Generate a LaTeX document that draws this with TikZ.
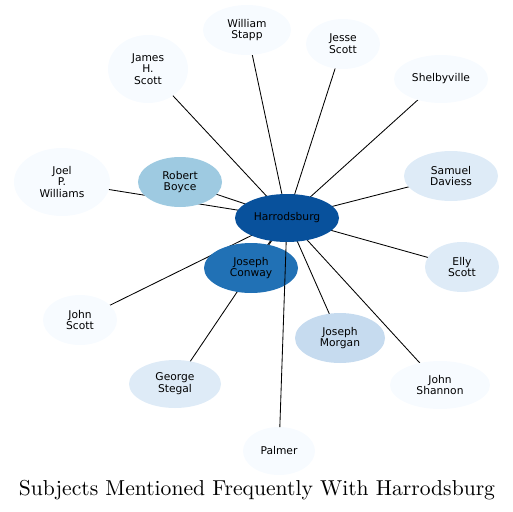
\documentclass[tikz,border=0pt]{standalone}
\usepackage{fontspec}
\newfontfamily\dejavu{DejaVu Sans}
\newfontfamily\lmten[Extension=.otf]{lmroman10-regular}
\usetikzlibrary{shapes.geometric,backgrounds}
\definecolor{cA}{HTML}{08519C}
\definecolor{cB}{HTML}{2171B5}
\definecolor{cC}{HTML}{9ECAE1}
\definecolor{cD}{HTML}{C6DBEF}
\definecolor{cE}{HTML}{DEEBF7}
\definecolor{cF}{HTML}{F7FBFF}
\tikzset{
  x=1pt, y=-1pt,
  ent/.style={ellipse, draw=none, inner sep=0pt, outer sep=0pt, align=center,
    font=\dejavu\fontsize{10.7}{11.8}\selectfont, text=black},
  link/.style={draw=black, line width=0.85pt},
}
\newcommand{\ent}[8]{\node[ent, fill=#6, minimum width=#4pt, minimum height=#5pt] (#1) at (#2,#3) {#7};}
\begin{document}
\begin{tikzpicture}
\useasboundingbox (0,0) rectangle (513,511);
\ent{H}{287}{218}{104}{48}{cA}{Harrodsburg}{}
\ent{RB}{180}{182}{84}{50}{cC}{Robert\\Boyce}{}
\ent{JC}{251}{268}{94}{50}{cB}{Joseph\\Conway}{}
\ent{JM}{340}{338}{90}{50}{cD}{Joseph\\Morgan}{}
\ent{SD}{451}{176}{94}{50}{cE}{Samuel\\Daviess}{}
\ent{GS}{175}{384}{92}{48}{cE}{George\\Stegal}{}
\ent{ES}{462}{267}{74}{50}{cE}{Elly\\Scott}{}
\ent{JS}{440}{385}{100}{48}{cF}{John\\Shannon}{}
\ent{PA}{279}{451}{72}{48}{cF}{Palmer}{}
\ent{JOS}{80}{320}{74}{50}{cF}{John\\Scott}{}
\ent{JPW}{62}{182}{96}{68}{cF}{Joel\\P.\\Williams}{}
\ent{JHS}{148}{69}{80}{68}{cF}{James\\H.\\Scott}{}
\ent{WS}{247}{30}{88}{50}{cF}{William\\Stapp}{}
\ent{JES}{343}{44}{74}{50}{cF}{Jesse\\Scott}{}
\ent{SH}{441}{79}{94}{48}{cF}{Shelbyville}{}
\begin{pgfonlayer}{background}
\foreach \n in {RB,JC,JM,SD,GS,ES,JS,JOS,JPW,JHS,WS,JES,SH}
  \draw[link] (H.center) -- (\n.center);
\end{pgfonlayer}
\draw[link] (H) -- (PA);
\node[anchor=base, inner sep=0pt, font=\lmten\fontsize{21.6}{26}\selectfont] (title) at (257,495) {Subjects Mentioned Frequently With Harrodsburg};
\end{tikzpicture}
\end{document}
